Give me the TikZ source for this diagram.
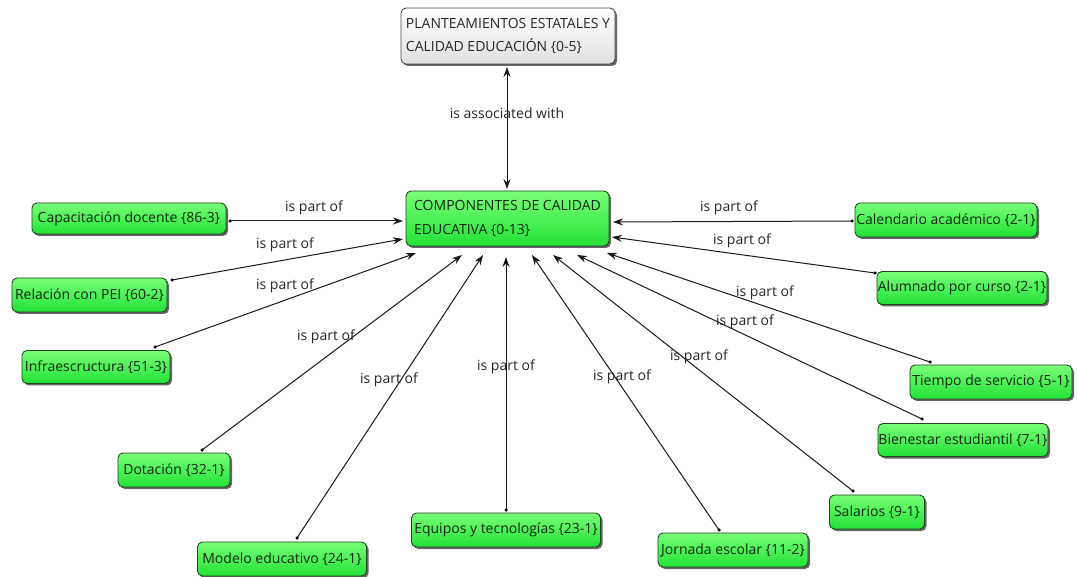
\documentclass[tikz,border=0pt]{standalone}
\usepackage{fontspec}
\setmainfont{Open Sans}
\usetikzlibrary{arrows.meta,shadows}

\definecolor{boxtop}{RGB}{120,255,120}
\definecolor{boxbot}{RGB}{35,225,55}
\definecolor{boxedge}{RGB}{30,70,30}
\definecolor{boxtext}{RGB}{15,40,15}
\definecolor{greytop}{RGB}{255,255,255}
\definecolor{greybot}{RGB}{225,225,225}

\tikzset{
  concept/.style={draw=boxedge, line width=0.9pt, rounded corners=5pt,
    top color=boxtop, bottom color=boxbot, text=boxtext,
    drop shadow={shadow xshift=2pt, shadow yshift=-2pt, fill=black!75, opacity=0.8},
    font=\fontsize{14}{23.5}\selectfont, inner sep=0pt, align=left},
  topic/.style={concept, draw=black!70, top color=greytop, bottom color=greybot, text=black!85},
  link/.style={line width=1pt, draw=black!90, -{Stealth[length=10pt,width=7pt]}},
  both/.style={line width=1pt, draw=black!90, {Stealth[length=10pt,width=7pt]}-{Stealth[length=10pt,width=7pt]}},
  lbl/.style={font=\fontsize{14}{16}\selectfont, text=black!85, inner sep=1pt},
  pin/.style={circle, fill=black, inner sep=0pt, minimum size=3.5pt}
}

\begin{document}
\begin{tikzpicture}[x=1pt,y=-1pt]
\useasboundingbox[fill=white] (0,0) rectangle (1077,577);

% central concept and the topic above it
\node[topic, minimum width=214pt, minimum height=56pt] (t) at (508,36)
  {PLANTEAMIENTOS ESTATALES Y\\CALIDAD EDUCACIÓN {\{}0-5{\}}};
\node[concept, minimum width=203pt, minimum height=55pt] (c) at (507.5,218.5)
  {COMPONENTES DE CALIDAD\\EDUCATIVA {\{}0-13{\}}};

% surrounding concepts
\node[concept, minimum width=194pt, minimum height=31pt, align=center] (cap) at (129,218.5) {Capacitación docente {\{}86-3{\}}};
\node[concept, minimum width=155pt, minimum height=34pt, align=center] (rel) at (89.5,295) {Relación con PEI {\{}60-2{\}}};
\node[concept, minimum width=148pt, minimum height=33pt, align=center] (inf) at (96,367) {Infraescructura {\{}51-3{\}}};
\node[concept, minimum width=112pt, minimum height=34pt, align=center] (dot) at (174,470) {Dotación {\{}32-1{\}}};
\node[concept, minimum width=169pt, minimum height=34pt, align=center] (mod) at (282,559) {Modelo educativo {\{}24-1{\}}};
\node[concept, minimum width=189pt, minimum height=34pt, align=center] (equ) at (506,530) {Equipos y tecnologías {\{}23-1{\}}};
\node[concept, minimum width=150pt, minimum height=34pt, align=center] (jor) at (733,550) {Jornada escolar {\{}11-2{\}}};
\node[concept, minimum width=95pt, minimum height=34pt, align=center] (sal) at (877,512) {Salarios {\{}9-1{\}}};
\node[concept, minimum width=170pt, minimum height=33pt, align=center] (bie) at (963,440) {Bienestar estudiantil {\{}7-1{\}}};
\node[concept, minimum width=162pt, minimum height=34pt, align=center] (tie) at (991,382) {Tiempo de servicio {\{}5-1{\}}};
\node[concept, minimum width=170pt, minimum height=33pt, align=center] (alu) at (962,288) {Alumnado por curso {\{}2-1{\}}};
\node[concept, minimum width=182pt, minimum height=34pt, align=center] (cal) at (946,220) {Calendario académico {\{}2-1{\}}};

% link start points on the surrounding concepts
\coordinate (cap-s) at (230,221);
\coordinate (rel-s) at (172,280);
\coordinate (inf-s) at (155,347);
\coordinate (dot-s) at (202,450);
\coordinate (mod-s) at (297,538);
\coordinate (equ-s) at (506,510);
\coordinate (jor-s) at (719,530);
\coordinate (sal-s) at (853,491);
\coordinate (bie-s) at (922,419);
\coordinate (tie-s) at (930,362);
\coordinate (alu-s) at (875,273);
\coordinate (cal-s) at (852,221);

% arrow tips around the central concept
\coordinate (cap-e) at (403,221);
\coordinate (rel-e) at (403,239);
\coordinate (inf-e) at (416,253);
\coordinate (dot-e) at (462,255);
\coordinate (mod-e) at (483,255);
\coordinate (equ-e) at (506,257);
\coordinate (jor-e) at (532,255);
\coordinate (sal-e) at (553,255);
\coordinate (bie-e) at (577,255);
\coordinate (tie-e) at (607,253);
\coordinate (alu-e) at (612,237);
\coordinate (cal-e) at (613,222);

\coordinate (t-e) at (507,67);
\coordinate (c-e) at (507,189);

% links
\draw[both] (c-e) -- (t-e);
\node[lbl] (l-t) at (507,113) {is associated with};

\foreach \n in {cap,rel,inf,dot,mod,equ,jor,sal,bie,tie,alu,cal}{
  \draw[link] (\n-s) -- (\n-e);
  \node[pin] at (\n-s) {};
}

\node[lbl] (l-cap) at (314,208) {is part of};
\node[lbl] (l-rel) at (285,245) {is part of};
\node[lbl] (l-inf) at (285,286) {is part of};
\node[lbl] (l-dot) at (326,337) {is part of};
\node[lbl] (l-mod) at (389,380) {is part of};
\node[lbl] (l-equ) at (506,367) {is part of};
\node[lbl] (l-jor) at (622,377) {is part of};
\node[lbl] (l-sal) at (699,357) {is part of};
\node[lbl] (l-bie) at (745,322) {is part of};
\node[lbl] (l-tie) at (765,293) {is part of};
\node[lbl] (l-alu) at (742,241) {is part of};
\node[lbl] (l-cal) at (729,208) {is part of};

\end{tikzpicture}
\end{document}
